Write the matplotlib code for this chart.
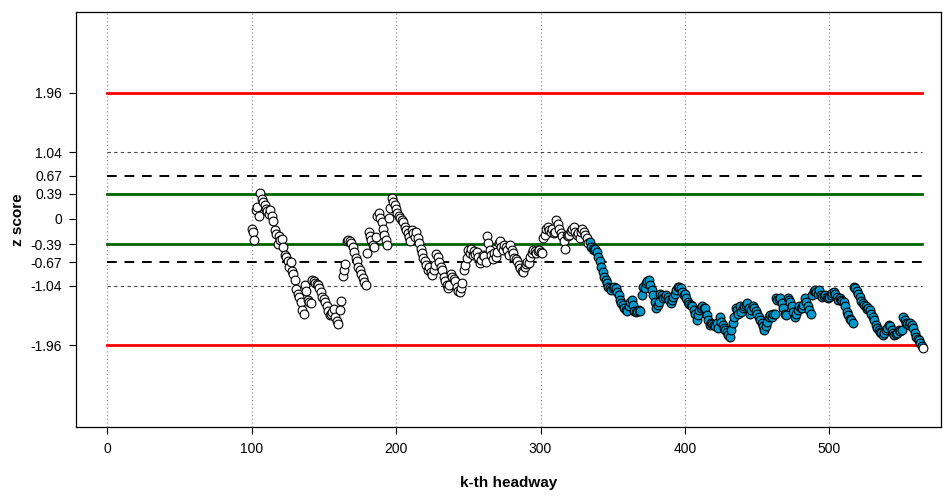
import numpy as np
import matplotlib
matplotlib.use("Agg")
import matplotlib.pyplot as plt

plt.rcParams['font.family'] = ['Liberation Sans', 'DejaVu Sans']

# z score of the k-th headway, starting at k = 100
k_first = 100
z_score = [
    -0.16, -0.21, -0.32, 0.14, 0.18, 0.05, 0.40, 0.31, 0.27, 0.21,
    0.16, 0.12, 0.07, 0.14, 0.05, -0.03, -0.17, -0.24, -0.39, -0.27,
    -0.33, -0.31, -0.43, -0.56, -0.59, -0.66, -0.74, -0.67, -0.81, -0.85,
    -0.95, -1.09, -1.16, -1.22, -1.29, -1.42, -1.48, -1.02, -1.12, -1.26,
    -1.29, -1.31, -0.95, -0.97, -1.00, -1.01, -1.02, -1.08, -1.14, -1.21,
    -1.25, -1.29, -1.35, -1.43, -1.50, -1.47, -1.44, -1.40, -1.52, -1.58,
    -1.64, -1.42, -1.28, -0.88, -0.79, -0.70, -0.35, -0.32, -0.35, -0.37,
    -0.44, -0.52, -0.60, -0.66, -0.74, -0.79, -0.86, -0.92, -0.98, -1.03,
    -0.53, -0.21, -0.27, -0.33, -0.40, -0.43, -0.28, 0.04, 0.09, 0.01,
    -0.04, -0.15, -0.25, -0.33, -0.40, 0.02, 0.17, 0.32, 0.27, 0.21,
    0.16, 0.09, 0.04, 0.01, -0.02, -0.04, -0.12, -0.17, -0.22, -0.28,
    -0.35, -0.17, -0.22, -0.28, -0.20, -0.30, -0.38, -0.46, -0.53, -0.61,
    -0.65, -0.72, -0.79, -0.74, -0.83, -0.87, -0.79, -0.72, -0.54, -0.59,
    -0.67, -0.74, -0.79, -0.90, -0.97, -1.03, -1.08, -1.03, -0.85, -0.90,
    -0.94, -0.97, -1.05, -1.12, -1.14, -1.08, -1.00, -0.79, -0.72, -0.60,
    -0.48, -0.53, -0.46, -0.56, -0.50, -0.55, -0.51, -0.59, -0.68, -0.64,
    -0.56, -0.58, -0.67, -0.27, -0.38, -0.48, -0.56, -0.62, -0.53, -0.59,
    -0.51, -0.38, -0.35, -0.43, -0.48, -0.40, -0.44, -0.48, -0.56, -0.40,
    -0.48, -0.53, -0.60, -0.63, -0.66, -0.71, -0.76, -0.81, -0.83, -0.74,
    -0.70, -0.67, -0.69, -0.59, -0.53, -0.48, -0.50, -0.53, -0.50, -0.48,
    -0.51, -0.53, -0.30, -0.25, -0.15, -0.12, -0.17, -0.20, -0.15, -0.22,
    -0.20, -0.02, -0.08, -0.15, -0.22, -0.27, -0.35, -0.46, -0.25, -0.27,
    -0.25, -0.18, -0.15, -0.12, -0.20, -0.25, -0.22, -0.30, -0.20, -0.15,
    -0.20, -0.25, -0.30, -0.38, -0.36, -0.43, -0.46, -0.48, -0.46, -0.51,
    -0.59, -0.66, -0.74, -0.82, -0.90, -0.95, -1.00, -1.05, -1.08, -1.10,
    -1.08, -1.05, -1.08, -1.13, -1.18, -1.26, -1.31, -1.34, -1.39, -1.41,
    -1.43, -1.36, -1.29, -1.26, -1.34, -1.43, -1.45, -1.43, -1.41, -1.43,
    -1.18, -1.05, -1.08, -1.00, -0.97, -0.95, -1.03, -1.10, -1.18, -1.29,
    -1.39, -1.34, -1.29, -1.16, -1.18, -1.23, -1.21, -1.18, -1.22, -1.26,
    -1.31, -1.26, -1.21, -1.16, -1.10, -1.05, -1.06, -1.08, -1.13, -1.18,
    -1.16, -1.23, -1.29, -1.32, -1.34, -1.36, -1.41, -1.47, -1.57, -1.49,
    -1.41, -1.38, -1.36, -1.39, -1.39, -1.49, -1.57, -1.65, -1.62, -1.64,
    -1.65, -1.67, -1.62, -1.70, -1.52, -1.60, -1.65, -1.69, -1.73, -1.75,
    -1.80, -1.83, -1.73, -1.62, -1.52, -1.39, -1.42, -1.47, -1.36, -1.44,
    -1.39, -1.36, -1.34, -1.31, -1.39, -1.47, -1.42, -1.36, -1.39, -1.43,
    -1.47, -1.52, -1.57, -1.62, -1.67, -1.73, -1.66, -1.60, -1.52, -1.49,
    -1.52, -1.48, -1.47, -1.23, -1.26, -1.24, -1.23, -1.31, -1.39, -1.47,
    -1.49, -1.23, -1.26, -1.29, -1.36, -1.44, -1.52, -1.47, -1.42, -1.36,
    -1.38, -1.39, -1.34, -1.23, -1.29, -1.36, -1.42, -1.47, -1.18, -1.12,
    -1.10, -1.13, -1.16, -1.10, -1.18, -1.22, -1.19, -1.18, -1.21, -1.23,
    -1.21, -1.18, -1.15, -1.13, -1.16, -1.21, -1.26, -1.23, -1.26, -1.27,
    -1.29, -1.36, -1.44, -1.49, -1.55, -1.57, -1.61, -1.05, -1.08, -1.12,
    -1.17, -1.22, -1.28, -1.31, -1.34, -1.36, -1.40, -1.39, -1.42, -1.47,
    -1.52, -1.57, -1.65, -1.69, -1.73, -1.75, -1.78, -1.80, -1.78, -1.73,
    -1.69, -1.65, -1.67, -1.73, -1.78, -1.80, -1.79, -1.78, -1.73, -1.74,
    -1.73, -1.53, -1.57, -1.62, -1.64, -1.65, -1.62, -1.65, -1.70, -1.78,
    -1.83, -1.86, -1.88, -1.93, -1.97, -2.01,
]
# headways from here on (except the newest) are flagged
k_flag_start = 334

# reference levels: value, colour, width, dash
levels = [
    (1.96, 'red', 2.0, None),
    (1.04, '#444444', 0.8, (3, 3)),
    (0.67, 'black', 1.4, (5, 4)),
    (0.39, '#006400', 2.0, None),
]
y_ticks = [1.96, 1.04, 0.67, 0.39, 0, -0.39, -0.67, -1.04, -1.96]
y_tick_labels = ['1.96', '1.04', '0.67', '0.39', '0', '-0.39', '-0.67', '-1.04', '-1.96']
x_ticks = [0, 100, 200, 300, 400, 500]

z = np.array(z_score)
k = np.arange(k_first, k_first + len(z))
k_last = k[-1] - 1

fig = plt.figure(figsize=(9.44, 4.96), dpi=100)
ax = fig.add_axes([76 / 944, 1 - 427 / 496, (941 - 76) / 944, (427 - 12) / 496])

for xt in x_ticks:
    ax.axvline(xt, color='#999999', lw=0.9, ls=(0, (1, 2)), zorder=1)

for val, col, lw, dash in levels:
    for v in (val, -val):
        ln, = ax.plot([0, k_last], [v, v], color=col, lw=lw, zorder=2)
        if dash is not None:
            ln.set_dashes(dash)

mk = dict(s=40, edgecolor='black', linewidth=0.8, zorder=3)
flag = (k >= k_flag_start) & (k < k[-1])
ax.scatter(k[k < k_flag_start], z[k < k_flag_start], facecolor='white', **mk)
ax.scatter(k[flag], z[flag], facecolor='#009ACD', **mk)
ax.scatter(k[-1:], z[-1:], facecolor='white', **mk)

ax.set_xlim(-21.5, 577.2)
ax.set_ylim(-3.235, 3.219)
ax.set_xticks(x_ticks)
ax.set_yticks(y_ticks)
ax.set_yticklabels(y_tick_labels)
ax.tick_params(axis='both', direction='out', length=5, width=0.8,
               labelsize=10, pad=5)
ax.tick_params(axis='x', pad=6)
for sp in ax.spines.values():
    sp.set_linewidth(0.9)

ax.set_xlabel('k-th headway', fontsize=11, fontweight='bold', labelpad=14)
ax.set_ylabel('z score', fontsize=11, fontweight='bold', labelpad=4)

fig.savefig('out.png', dpi=100)
